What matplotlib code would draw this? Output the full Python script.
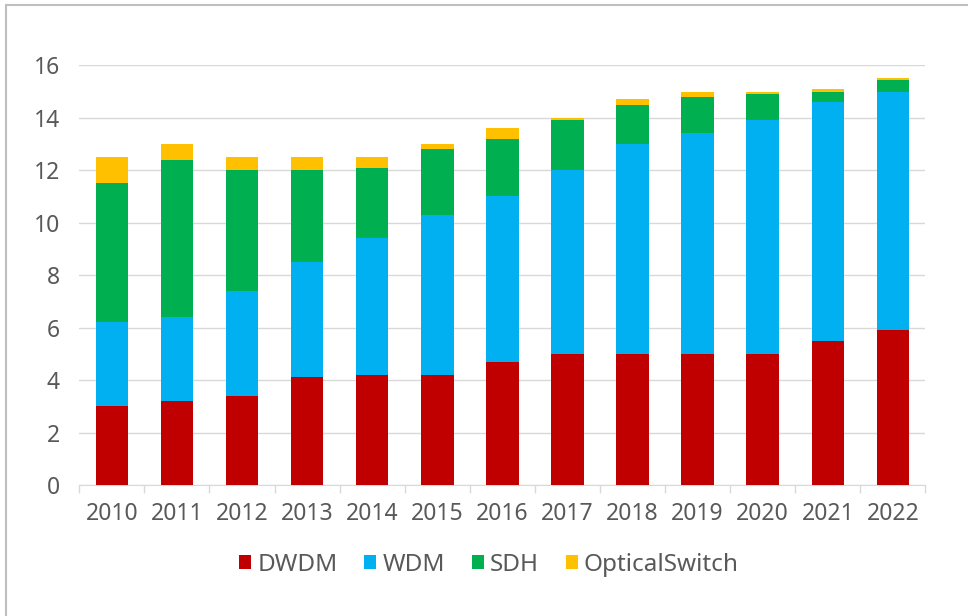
import matplotlib.pyplot as plt
from matplotlib.lines import Line2D

years = ['2010', '2011', '2012', '2013', '2014', '2015', '2016',
         '2017', '2018', '2019', '2020', '2021', '2022']
dwdm = [3.0, 3.2, 3.4, 4.1, 4.2, 4.2, 4.7, 5.0, 5.0, 5.0, 5.0, 5.5, 5.9]
wdm = [3.2, 3.2, 4.0, 4.4, 5.2, 6.1, 6.3, 7.0, 8.0, 8.4, 8.9, 9.1, 9.1]
sdh = [5.3, 6.0, 4.6, 3.5, 2.7, 2.5, 2.2, 1.9, 1.5, 1.4, 1.0, 0.4, 0.45]
optical = [1.0, 0.6, 0.5, 0.5, 0.4, 0.2, 0.4, 0.1, 0.2, 0.2, 0.1, 0.1, 0.05]

series = [('DWDM', dwdm, '#C00000'),
          ('WDM', wdm, '#00B0F0'),
          ('SDH', sdh, '#00B050'),
          ('OpticalSwitch', optical, '#FFC000')]

plt.rcParams['font.family'] = ['Noto Sans', 'DejaVu Sans']
text_color = '#595959'

fig = plt.figure(figsize=(9.68, 6.16), dpi=100)
ax = fig.add_axes([0.0819, 0.2127, 0.8741, 0.6813])

x = range(len(years))
bottom = [0] * len(years)
for name, vals, color in series:
    ax.bar(x, vals, 0.5, bottom=bottom, color=color, label=name, zorder=3)
    bottom = [b + v for b, v in zip(bottom, vals)]

ax.set_xlim(-0.5, len(years) - 0.5)
ax.set_ylim(0, 16)
ax.set_yticks(range(0, 17, 2))
ax.set_xticks(list(x))
ax.set_xticklabels(years)
# small tick marks between the categories, like the original
ax.set_xticks([i - 0.5 for i in range(len(years) + 1)], minor=True)
ax.tick_params(axis='x', which='major', length=0, pad=12, labelsize=16.5, labelcolor=text_color)
ax.tick_params(axis='x', which='minor', length=6, color='#D9D9D9', width=1)
ax.tick_params(axis='y', length=0, pad=14, labelsize=16.5, labelcolor=text_color)

ax.grid(axis='y', color='#D9D9D9', linewidth=1, zorder=0)
for s in ['top', 'right', 'left']:
    ax.spines[s].set_visible(False)
ax.spines['bottom'].set_color('#D9D9D9')

handles, labels = ax.get_legend_handles_labels()
fig.legend(handles, labels, loc='center', bbox_to_anchor=(0.505, 0.083), ncol=4,
           frameon=False, fontsize=17.5, labelcolor=text_color,
           handlelength=0.5, handleheight=0.5, handletextpad=0.25, columnspacing=1.1)

# outer frame of the screenshot
fig.add_artist(Line2D([0.0062, 0.0062], [0, 0.992], color='#BFBFBF', linewidth=1.5))
fig.add_artist(Line2D([0.0062, 1], [0.992, 0.992], color='#BFBFBF', linewidth=1.5))

fig.savefig('out.png', dpi=100)
